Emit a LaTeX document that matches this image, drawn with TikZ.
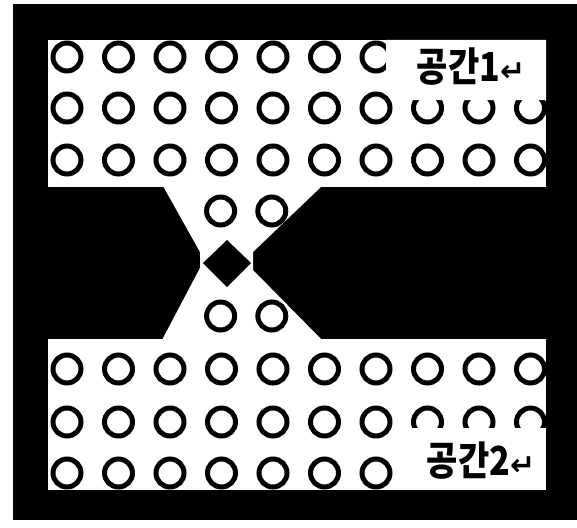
\documentclass[tikz,border=0pt]{standalone}
\usepackage{fontspec}
\newfontfamily\krfont{Noto Sans CJK KR}
\newfontfamily\symfont{DejaVu Sans}
\usetikzlibrary{positioning}

\tikzset{
  hole/.style={draw=black, line width=5pt},
  spacelabel/.style={inner sep=0pt, font=\krfont\bfseries\fontsize{40}{40}\selectfont}
}
\newcommand{\retmark}{{\symfont\bfseries\fontsize{30}{30}\selectfont ↵}}

\begin{document}
\begin{tikzpicture}[x=1pt, y=-1pt]
        \useasboundingbox (0,0) rectangle (577,527);
        % Black plate
        \fill[black] (13,4) rectangle (577,520);
        % Open spaces and the narrow channel
        \fill[white] (48,40) rectangle (546,187);
        \fill[white] (48,339) rectangle (546,490);
        \fill[white] (163,186) -- (200,252) -- (200,268) -- (162,340)
              -- (322,340) -- (253,270) -- (253,252) -- (322,186) -- cycle;
        % Diamond in the channel
        \fill[black] (227,240) -- (251,263) -- (227,287) -- (203,263) -- cycle;
        % Holes in the two spaces
        \begin{scope}
            \clip (48,40) rectangle (546,187) (48,339) rectangle (546,490);
            \foreach \y in {57,108,160,369,422,473}
                \foreach \i in {0,...,9}
                    \draw[hole] ({67+51.5*\i},\y) circle (14pt);
        \end{scope}
        % Holes in the channel
        \foreach \y in {211,316}
            \foreach \i in {3,4}
                \draw[hole] ({67+51.2*\i},\y) circle (14pt);
        % Label spaces
        \fill[white] (386,40) -- (546,40) -- (546,100) -- (395,100) -- (395,88) -- (386,88) -- cycle;
        \node[spacelabel] (space1) at (471,67) {\scalebox{0.85}[1]{공간1}\retmark};
        \fill[white] (398,428) rectangle (546,490);
        \node[spacelabel] (space2) at (481,461) {\scalebox{0.85}[1]{공간2}\retmark};
\end{tikzpicture}
\end{document}
